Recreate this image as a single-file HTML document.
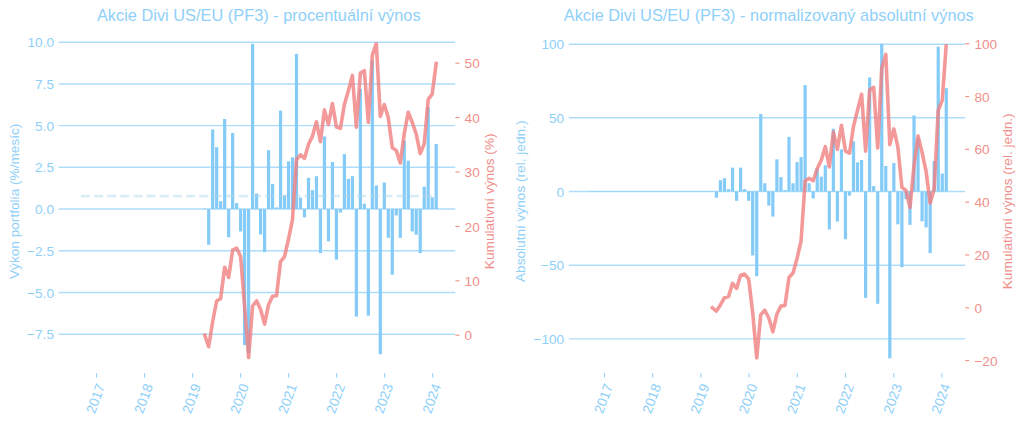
<!DOCTYPE html>
<html lang="cs"><head><meta charset="utf-8"><title>Akcie Divi US/EU (PF3)</title>
<style>html,body{margin:0;padding:0;background:#fff}body{width:1024px;height:424px;overflow:hidden}svg{display:block}svg text{font-family:"Liberation Sans",sans-serif}</style></head>
<body>
<svg width="1024" height="424" viewBox="0 0 1024 424">
<rect width="1024" height="424" fill="#fff"/>
<clipPath id="ca"><rect x="58.7" y="42.2" width="396.5" height="331"/></clipPath>
<rect x="203.11" y="208.6" width="3.2" height="0.9" fill-opacity="0.55" fill="#84cbf8"/>
<rect x="207.1" y="209.05" width="3.2" height="35.74" fill="#84cbf8"/>
<rect x="211.09" y="129.46" width="3.2" height="79.59" fill="#84cbf8"/>
<rect x="215.08" y="147.14" width="3.2" height="61.91" fill="#84cbf8"/>
<rect x="219.07" y="201.21" width="3.2" height="7.84" fill="#84cbf8"/>
<rect x="223.06" y="118.95" width="3.2" height="90.1" fill="#84cbf8"/>
<rect x="227.06" y="209.05" width="3.2" height="28.23" fill="#84cbf8"/>
<rect x="231.05" y="132.96" width="3.2" height="76.09" fill="#84cbf8"/>
<rect x="235.04" y="203.04" width="3.2" height="6.01" fill="#84cbf8"/>
<rect x="239.03" y="209.05" width="3.2" height="22.39" fill="#84cbf8"/>
<rect x="243.02" y="209.05" width="3.2" height="136.02" fill="#84cbf8"/>
<rect x="247.01" y="209.05" width="3.2" height="144.2" fill="#84cbf8"/>
<rect x="251" y="43.86" width="3.2" height="165.19" fill="#84cbf8"/>
<rect x="254.99" y="193.53" width="3.2" height="15.52" fill="#84cbf8"/>
<rect x="258.98" y="209.05" width="3.2" height="25.4" fill="#84cbf8"/>
<rect x="262.97" y="209.05" width="3.2" height="43.08" fill="#84cbf8"/>
<rect x="266.96" y="150.15" width="3.2" height="58.9" fill="#84cbf8"/>
<rect x="270.96" y="184.02" width="3.2" height="25.03" fill="#84cbf8"/>
<rect x="274.95" y="207.38" width="3.2" height="1.67" fill="#84cbf8"/>
<rect x="278.94" y="110.6" width="3.2" height="98.45" fill="#84cbf8"/>
<rect x="282.93" y="195.37" width="3.2" height="13.68" fill="#84cbf8"/>
<rect x="286.92" y="161.33" width="3.2" height="47.72" fill="#84cbf8"/>
<rect x="290.91" y="157.32" width="3.2" height="51.73" fill="#84cbf8"/>
<rect x="294.9" y="53.87" width="3.2" height="155.18" fill="#84cbf8"/>
<rect x="298.89" y="197.7" width="3.2" height="11.35" fill="#84cbf8"/>
<rect x="302.88" y="209.05" width="3.2" height="8.21" fill="#84cbf8"/>
<rect x="306.88" y="177.85" width="3.2" height="31.2" fill="#84cbf8"/>
<rect x="310.87" y="190.19" width="3.2" height="18.86" fill="#84cbf8"/>
<rect x="314.86" y="176.18" width="3.2" height="32.87" fill="#84cbf8"/>
<rect x="318.85" y="209.05" width="3.2" height="44.08" fill="#84cbf8"/>
<rect x="322.84" y="136.47" width="3.2" height="72.58" fill="#84cbf8"/>
<rect x="326.83" y="209.05" width="3.2" height="32.24" fill="#84cbf8"/>
<rect x="330.82" y="162" width="3.2" height="47.05" fill="#84cbf8"/>
<rect x="334.81" y="209.05" width="3.2" height="50.59" fill="#84cbf8"/>
<rect x="338.8" y="209.05" width="3.2" height="3.54" fill="#84cbf8"/>
<rect x="342.79" y="154.15" width="3.2" height="54.9" fill="#84cbf8"/>
<rect x="346.78" y="178.85" width="3.2" height="30.2" fill="#84cbf8"/>
<rect x="350.78" y="176.18" width="3.2" height="32.87" fill="#84cbf8"/>
<rect x="354.77" y="209.05" width="3.2" height="107.49" fill="#84cbf8"/>
<rect x="358.76" y="88.91" width="3.2" height="120.14" fill="#84cbf8"/>
<rect x="362.75" y="203.71" width="3.2" height="5.34" fill="#84cbf8"/>
<rect x="366.74" y="209.05" width="3.2" height="106.66" fill="#84cbf8"/>
<rect x="370.73" y="60.54" width="3.2" height="148.51" fill="#84cbf8"/>
<rect x="374.72" y="185.52" width="3.2" height="23.53" fill="#84cbf8"/>
<rect x="378.71" y="209.05" width="3.2" height="145.2" fill="#84cbf8"/>
<rect x="382.7" y="182.52" width="3.2" height="26.53" fill="#84cbf8"/>
<rect x="386.69" y="209.05" width="3.2" height="28.73" fill="#84cbf8"/>
<rect x="390.69" y="209.05" width="3.2" height="65.78" fill="#84cbf8"/>
<rect x="394.68" y="209.05" width="3.2" height="6.37" fill="#84cbf8"/>
<rect x="398.67" y="209.05" width="3.2" height="28.9" fill="#84cbf8"/>
<rect x="402.66" y="140.64" width="3.2" height="68.41" fill="#84cbf8"/>
<rect x="406.65" y="160.66" width="3.2" height="48.39" fill="#84cbf8"/>
<rect x="410.64" y="209.05" width="3.2" height="22.39" fill="#84cbf8"/>
<rect x="414.63" y="209.05" width="3.2" height="25.73" fill="#84cbf8"/>
<rect x="418.62" y="209.05" width="3.2" height="44.08" fill="#84cbf8"/>
<rect x="422.61" y="186.69" width="3.2" height="22.36" fill="#84cbf8"/>
<rect x="426.6" y="107.27" width="3.2" height="101.78" fill="#84cbf8"/>
<rect x="430.6" y="197.37" width="3.2" height="11.68" fill="#84cbf8"/>
<rect x="434.59" y="143.97" width="3.2" height="65.08" fill="#84cbf8"/>
<line x1="58.7" x2="455.2" y1="42.19" y2="42.19" stroke="#84cbf8" stroke-opacity="0.66" stroke-width="1.45"/>
<text x="54" y="47.29" font-size="13.65" fill="#8fd0f9" text-anchor="end">10.0</text>
<line x1="58.7" x2="455.2" y1="83.91" y2="83.91" stroke="#84cbf8" stroke-opacity="0.66" stroke-width="1.45"/>
<text x="54" y="89.01" font-size="13.65" fill="#8fd0f9" text-anchor="end">7.5</text>
<line x1="58.7" x2="455.2" y1="125.62" y2="125.62" stroke="#84cbf8" stroke-opacity="0.66" stroke-width="1.45"/>
<text x="54" y="130.72" font-size="13.65" fill="#8fd0f9" text-anchor="end">5.0</text>
<line x1="58.7" x2="455.2" y1="167.34" y2="167.34" stroke="#84cbf8" stroke-opacity="0.66" stroke-width="1.45"/>
<text x="54" y="172.44" font-size="13.65" fill="#8fd0f9" text-anchor="end">2.5</text>
<line x1="58.7" x2="455.2" y1="209.05" y2="209.05" stroke="#84cbf8" stroke-opacity="0.66" stroke-width="1.45"/>
<text x="54" y="214.15" font-size="13.65" fill="#8fd0f9" text-anchor="end">0.0</text>
<line x1="58.7" x2="455.2" y1="250.77" y2="250.77" stroke="#84cbf8" stroke-opacity="0.66" stroke-width="1.45"/>
<text x="54" y="255.87" font-size="13.65" fill="#8fd0f9" text-anchor="end">−2.5</text>
<line x1="58.7" x2="455.2" y1="292.48" y2="292.48" stroke="#84cbf8" stroke-opacity="0.66" stroke-width="1.45"/>
<text x="54" y="297.58" font-size="13.65" fill="#8fd0f9" text-anchor="end">−5.0</text>
<line x1="58.7" x2="455.2" y1="334.19" y2="334.19" stroke="#84cbf8" stroke-opacity="0.66" stroke-width="1.45"/>
<text x="54" y="339.3" font-size="13.65" fill="#8fd0f9" text-anchor="end">−7.5</text>
<line x1="80.87" x2="436.5" y1="196.15" y2="196.15" stroke="#add8e6" stroke-opacity="0.45" stroke-width="2.6" stroke-dasharray="9 4.16"/>
<polyline points="204.71,335.2 208.7,346.77 212.69,321.52 216.68,300.98 220.67,298.42 224.66,267.21 228.66,277.47 232.65,250.2 236.64,248.1 240.63,256.48 244.62,307.15 248.61,357.49 252.6,305.98 256.59,300.8 260.58,309.52 264.57,324.15 268.56,304.7 272.56,296.24 276.55,295.81 280.54,261.55 284.53,256.65 288.52,239.02 292.51,219.34 296.5,159.68 300.49,154.97 304.48,158.43 308.48,144.41 312.47,136.3 316.46,121.85 320.45,141.77 324.44,109.85 328.43,124.62 332.42,103.52 336.41,126.94 340.4,128.43 344.39,104.61 348.38,90.77 352.38,75.42 356.37,127.18 360.36,73.13 364.35,70.76 368.34,122.41 372.33,55.13 376.32,43.71 380.31,116.42 384.3,104.48 388.29,117.73 392.29,147.69 396.28,150.38 400.27,162.92 404.26,133.68 408.25,112.22 412.24,122.42 416.23,134 420.22,153.61 424.21,144.07 428.2,99.33 432.2,94.07 436.19,63.44" fill="none" stroke="#f08080" stroke-opacity="0.8" stroke-width="3.6" clip-path="url(#ca)" stroke-linejoin="round" stroke-linecap="square"/>
<line x1="455.4" x2="459.4" y1="335.2" y2="335.2" stroke="#f08f8b" stroke-width="1.1"/>
<text x="464.6" y="340.3" font-size="13.65" fill="#f08f8b">0</text>
<line x1="455.4" x2="459.4" y1="280.8" y2="280.8" stroke="#f08f8b" stroke-width="1.1"/>
<text x="464.6" y="285.9" font-size="13.65" fill="#f08f8b">10</text>
<line x1="455.4" x2="459.4" y1="226.4" y2="226.4" stroke="#f08f8b" stroke-width="1.1"/>
<text x="464.6" y="231.5" font-size="13.65" fill="#f08f8b">20</text>
<line x1="455.4" x2="459.4" y1="172" y2="172" stroke="#f08f8b" stroke-width="1.1"/>
<text x="464.6" y="177.1" font-size="13.65" fill="#f08f8b">30</text>
<line x1="455.4" x2="459.4" y1="117.6" y2="117.6" stroke="#f08f8b" stroke-width="1.1"/>
<text x="464.6" y="122.7" font-size="13.65" fill="#f08f8b">40</text>
<line x1="455.4" x2="459.4" y1="63.2" y2="63.2" stroke="#f08f8b" stroke-width="1.1"/>
<text x="464.6" y="68.3" font-size="13.65" fill="#f08f8b">50</text>
<line x1="96.5" x2="96.5" y1="373.2" y2="377.6" stroke="#8fd0f9" stroke-width="1.1"/>
<text transform="translate(95.4,398.6) rotate(-70)" font-size="13.65" fill="#8fd0f9" text-anchor="middle" dy="4.77">2017</text>
<line x1="144.53" x2="144.53" y1="373.2" y2="377.6" stroke="#8fd0f9" stroke-width="1.1"/>
<text transform="translate(143.43,398.6) rotate(-70)" font-size="13.65" fill="#8fd0f9" text-anchor="middle" dy="4.77">2018</text>
<line x1="192.56" x2="192.56" y1="373.2" y2="377.6" stroke="#8fd0f9" stroke-width="1.1"/>
<text transform="translate(191.46,398.6) rotate(-70)" font-size="13.65" fill="#8fd0f9" text-anchor="middle" dy="4.77">2019</text>
<line x1="240.59" x2="240.59" y1="373.2" y2="377.6" stroke="#8fd0f9" stroke-width="1.1"/>
<text transform="translate(239.49,398.6) rotate(-70)" font-size="13.65" fill="#8fd0f9" text-anchor="middle" dy="4.77">2020</text>
<line x1="288.62" x2="288.62" y1="373.2" y2="377.6" stroke="#8fd0f9" stroke-width="1.1"/>
<text transform="translate(287.52,398.6) rotate(-70)" font-size="13.65" fill="#8fd0f9" text-anchor="middle" dy="4.77">2021</text>
<line x1="336.65" x2="336.65" y1="373.2" y2="377.6" stroke="#8fd0f9" stroke-width="1.1"/>
<text transform="translate(335.55,398.6) rotate(-70)" font-size="13.65" fill="#8fd0f9" text-anchor="middle" dy="4.77">2022</text>
<line x1="384.68" x2="384.68" y1="373.2" y2="377.6" stroke="#8fd0f9" stroke-width="1.1"/>
<text transform="translate(383.58,398.6) rotate(-70)" font-size="13.65" fill="#8fd0f9" text-anchor="middle" dy="4.77">2023</text>
<line x1="432.71" x2="432.71" y1="373.2" y2="377.6" stroke="#8fd0f9" stroke-width="1.1"/>
<text transform="translate(431.61,398.6) rotate(-70)" font-size="13.65" fill="#8fd0f9" text-anchor="middle" dy="4.77">2024</text>
<text x="258.75" y="21" font-size="16.38" fill="#8fd0f9" text-anchor="middle">Akcie Divi US/EU (PF3) - procentuální výnos</text>
<text transform="translate(18.6,201.3) rotate(-90)" font-size="13.65" fill="#8fd0f9" text-anchor="middle">Výkon portfolia (%/mesíc)</text>
<text transform="translate(494.2,201.3) rotate(-90)" font-size="13.65" fill="#f08f8b" text-anchor="middle">Kumulativní výnos (%)</text>
<clipPath id="cb"><rect x="568.9" y="44.15" width="396.1" height="329.05"/></clipPath>
<rect x="589.78" y="191.05" width="3.2" height="0.9" fill-opacity="0.55" fill="#84cbf8"/>
<rect x="593.81" y="191.05" width="3.2" height="0.9" fill-opacity="0.55" fill="#84cbf8"/>
<rect x="597.84" y="191.05" width="3.2" height="0.9" fill-opacity="0.55" fill="#84cbf8"/>
<rect x="601.88" y="191.05" width="3.2" height="0.9" fill-opacity="0.55" fill="#84cbf8"/>
<rect x="605.91" y="191.05" width="3.2" height="0.9" fill-opacity="0.55" fill="#84cbf8"/>
<rect x="609.94" y="191.05" width="3.2" height="0.9" fill-opacity="0.55" fill="#84cbf8"/>
<rect x="613.97" y="191.05" width="3.2" height="0.9" fill-opacity="0.55" fill="#84cbf8"/>
<rect x="618.01" y="191.05" width="3.2" height="0.9" fill-opacity="0.55" fill="#84cbf8"/>
<rect x="622.04" y="191.05" width="3.2" height="0.9" fill-opacity="0.55" fill="#84cbf8"/>
<rect x="626.07" y="191.05" width="3.2" height="0.9" fill-opacity="0.55" fill="#84cbf8"/>
<rect x="630.11" y="191.05" width="3.2" height="0.9" fill-opacity="0.55" fill="#84cbf8"/>
<rect x="634.14" y="191.05" width="3.2" height="0.9" fill-opacity="0.55" fill="#84cbf8"/>
<rect x="638.17" y="191.05" width="3.2" height="0.9" fill-opacity="0.55" fill="#84cbf8"/>
<rect x="642.21" y="191.05" width="3.2" height="0.9" fill-opacity="0.55" fill="#84cbf8"/>
<rect x="646.24" y="191.05" width="3.2" height="0.9" fill-opacity="0.55" fill="#84cbf8"/>
<rect x="650.27" y="191.05" width="3.2" height="0.9" fill-opacity="0.55" fill="#84cbf8"/>
<rect x="654.3" y="191.05" width="3.2" height="0.9" fill-opacity="0.55" fill="#84cbf8"/>
<rect x="658.34" y="191.05" width="3.2" height="0.9" fill-opacity="0.55" fill="#84cbf8"/>
<rect x="662.37" y="191.05" width="3.2" height="0.9" fill-opacity="0.55" fill="#84cbf8"/>
<rect x="666.4" y="191.05" width="3.2" height="0.9" fill-opacity="0.55" fill="#84cbf8"/>
<rect x="670.44" y="191.05" width="3.2" height="0.9" fill-opacity="0.55" fill="#84cbf8"/>
<rect x="674.47" y="191.05" width="3.2" height="0.9" fill-opacity="0.55" fill="#84cbf8"/>
<rect x="678.5" y="191.05" width="3.2" height="0.9" fill-opacity="0.55" fill="#84cbf8"/>
<rect x="682.54" y="191.05" width="3.2" height="0.9" fill-opacity="0.55" fill="#84cbf8"/>
<rect x="686.57" y="191.05" width="3.2" height="0.9" fill-opacity="0.55" fill="#84cbf8"/>
<rect x="690.6" y="191.05" width="3.2" height="0.9" fill-opacity="0.55" fill="#84cbf8"/>
<rect x="694.63" y="191.05" width="3.2" height="0.9" fill-opacity="0.55" fill="#84cbf8"/>
<rect x="698.67" y="191.05" width="3.2" height="0.9" fill-opacity="0.55" fill="#84cbf8"/>
<rect x="702.7" y="191.05" width="3.2" height="0.9" fill-opacity="0.55" fill="#84cbf8"/>
<rect x="706.73" y="191.05" width="3.2" height="0.9" fill-opacity="0.55" fill="#84cbf8"/>
<rect x="710.77" y="191.05" width="3.2" height="0.9" fill-opacity="0.55" fill="#84cbf8"/>
<rect x="714.8" y="191.5" width="3.2" height="6.19" fill="#84cbf8"/>
<rect x="718.83" y="180.15" width="3.2" height="11.35" fill="#84cbf8"/>
<rect x="722.87" y="178.23" width="3.2" height="13.27" fill="#84cbf8"/>
<rect x="726.9" y="189.14" width="3.2" height="2.36" fill="#84cbf8"/>
<rect x="730.93" y="167.62" width="3.2" height="23.88" fill="#84cbf8"/>
<rect x="734.96" y="191.5" width="3.2" height="9.29" fill="#84cbf8"/>
<rect x="739" y="167.62" width="3.2" height="23.88" fill="#84cbf8"/>
<rect x="743.03" y="189.14" width="3.2" height="2.36" fill="#84cbf8"/>
<rect x="747.06" y="191.5" width="3.2" height="9.29" fill="#84cbf8"/>
<rect x="751.1" y="191.5" width="3.2" height="63.96" fill="#84cbf8"/>
<rect x="755.13" y="191.5" width="3.2" height="84.73" fill="#84cbf8"/>
<rect x="759.16" y="113.99" width="3.2" height="77.51" fill="#84cbf8"/>
<rect x="763.2" y="183.24" width="3.2" height="8.26" fill="#84cbf8"/>
<rect x="767.23" y="191.5" width="3.2" height="14.15" fill="#84cbf8"/>
<rect x="771.26" y="191.5" width="3.2" height="25.05" fill="#84cbf8"/>
<rect x="775.29" y="159.37" width="3.2" height="32.13" fill="#84cbf8"/>
<rect x="779.33" y="177.05" width="3.2" height="14.45" fill="#84cbf8"/>
<rect x="783.36" y="190.02" width="3.2" height="1.48" fill="#84cbf8"/>
<rect x="787.39" y="136.83" width="3.2" height="54.67" fill="#84cbf8"/>
<rect x="791.43" y="183.24" width="3.2" height="8.26" fill="#84cbf8"/>
<rect x="795.46" y="162.17" width="3.2" height="29.33" fill="#84cbf8"/>
<rect x="799.49" y="157.16" width="3.2" height="34.34" fill="#84cbf8"/>
<rect x="803.53" y="85.11" width="3.2" height="106.39" fill="#84cbf8"/>
<rect x="807.56" y="183.24" width="3.2" height="8.26" fill="#84cbf8"/>
<rect x="811.59" y="191.5" width="3.2" height="6.93" fill="#84cbf8"/>
<rect x="815.62" y="168.36" width="3.2" height="23.14" fill="#84cbf8"/>
<rect x="819.66" y="176.61" width="3.2" height="14.89" fill="#84cbf8"/>
<rect x="823.69" y="165.27" width="3.2" height="26.23" fill="#84cbf8"/>
<rect x="827.72" y="191.5" width="3.2" height="38.02" fill="#84cbf8"/>
<rect x="831.76" y="128.87" width="3.2" height="62.63" fill="#84cbf8"/>
<rect x="835.79" y="191.5" width="3.2" height="30.06" fill="#84cbf8"/>
<rect x="839.82" y="149.35" width="3.2" height="42.15" fill="#84cbf8"/>
<rect x="843.86" y="191.5" width="3.2" height="47.75" fill="#84cbf8"/>
<rect x="847.89" y="191.5" width="3.2" height="4.13" fill="#84cbf8"/>
<rect x="851.92" y="141.4" width="3.2" height="50.1" fill="#84cbf8"/>
<rect x="855.95" y="162.32" width="3.2" height="29.18" fill="#84cbf8"/>
<rect x="859.99" y="159.96" width="3.2" height="31.54" fill="#84cbf8"/>
<rect x="864.02" y="191.5" width="3.2" height="106.39" fill="#84cbf8"/>
<rect x="868.05" y="77.45" width="3.2" height="114.05" fill="#84cbf8"/>
<rect x="872.09" y="186.04" width="3.2" height="5.46" fill="#84cbf8"/>
<rect x="876.12" y="191.5" width="3.2" height="112.29" fill="#84cbf8"/>
<rect x="880.15" y="43.85" width="3.2" height="147.65" fill="#84cbf8"/>
<rect x="884.19" y="166" width="3.2" height="25.5" fill="#84cbf8"/>
<rect x="888.22" y="191.5" width="3.2" height="166.81" fill="#84cbf8"/>
<rect x="892.25" y="163.06" width="3.2" height="28.44" fill="#84cbf8"/>
<rect x="896.28" y="191.5" width="3.2" height="32.86" fill="#84cbf8"/>
<rect x="900.32" y="191.5" width="3.2" height="75.74" fill="#84cbf8"/>
<rect x="904.35" y="191.5" width="3.2" height="7.67" fill="#84cbf8"/>
<rect x="908.38" y="191.5" width="3.2" height="33.31" fill="#84cbf8"/>
<rect x="912.42" y="115.46" width="3.2" height="76.04" fill="#84cbf8"/>
<rect x="916.45" y="138.15" width="3.2" height="53.35" fill="#84cbf8"/>
<rect x="920.48" y="191.5" width="3.2" height="29.77" fill="#84cbf8"/>
<rect x="924.52" y="191.5" width="3.2" height="35.96" fill="#84cbf8"/>
<rect x="928.55" y="191.5" width="3.2" height="61.6" fill="#84cbf8"/>
<rect x="932.58" y="161.14" width="3.2" height="30.36" fill="#84cbf8"/>
<rect x="936.62" y="46.65" width="3.2" height="144.85" fill="#84cbf8"/>
<rect x="940.65" y="173.52" width="3.2" height="17.98" fill="#84cbf8"/>
<rect x="944.68" y="88.2" width="3.2" height="103.3" fill="#84cbf8"/>
<line x1="568.9" x2="965" y1="44.15" y2="44.15" stroke="#84cbf8" stroke-opacity="0.66" stroke-width="1.45"/>
<text x="564.2" y="49.25" font-size="13.65" fill="#8fd0f9" text-anchor="end">100</text>
<line x1="568.9" x2="965" y1="117.83" y2="117.83" stroke="#84cbf8" stroke-opacity="0.66" stroke-width="1.45"/>
<text x="564.2" y="122.92" font-size="13.65" fill="#8fd0f9" text-anchor="end">50</text>
<line x1="568.9" x2="965" y1="191.5" y2="191.5" stroke="#84cbf8" stroke-opacity="0.66" stroke-width="1.45"/>
<text x="564.2" y="196.6" font-size="13.65" fill="#8fd0f9" text-anchor="end">0</text>
<line x1="568.9" x2="965" y1="265.18" y2="265.18" stroke="#84cbf8" stroke-opacity="0.66" stroke-width="1.45"/>
<text x="564.2" y="270.28" font-size="13.65" fill="#8fd0f9" text-anchor="end">−50</text>
<line x1="568.9" x2="965" y1="338.85" y2="338.85" stroke="#84cbf8" stroke-opacity="0.66" stroke-width="1.45"/>
<text x="564.2" y="343.95" font-size="13.65" fill="#8fd0f9" text-anchor="end">−100</text>
<polyline points="712.37,307.8 716.4,311.09 720.43,304.92 724.47,297.68 728.5,296.52 732.53,283.36 736.56,288.38 740.6,275.21 744.63,274.06 748.66,279.08 752.7,312.78 756.73,357.83 760.76,314.7 764.8,310.26 768.83,317.99 772.86,331.82 776.89,314.04 780.93,306.14 784.96,305.48 788.99,277.49 793.03,273.05 797.06,258.42 801.09,240.73 805.13,180.95 809.16,178.35 813.19,180.73 817.23,168.5 821.26,160.36 825.29,146.66 829.32,166.94 833.36,132.13 837.39,149.28 841.42,125.38 845.46,151.09 849.49,153.23 853.52,126.2 857.55,110.07 861.59,94.21 865.62,151.09 869.65,89.93 873.69,87.31 877.72,148.01 881.75,68.09 885.79,54.41 889.82,144.64 893.85,128.92 897.88,147.11 901.92,187.4 905.95,190.45 909.98,207.57 914.02,165.53 918.05,135.9 922.08,152.36 926.12,171.49 930.15,203.08 934.18,188.67 938.22,110.31 942.25,100.44 946.28,43.7" fill="none" stroke="#f08080" stroke-opacity="0.8" stroke-width="3.6" clip-path="url(#cb)" stroke-linejoin="round" stroke-linecap="square"/>
<line x1="965.2" x2="969.2" y1="360.62" y2="360.62" stroke="#f08f8b" stroke-width="1.1"/>
<text x="974.4" y="365.72" font-size="13.65" fill="#f08f8b">−20</text>
<line x1="965.2" x2="969.2" y1="307.8" y2="307.8" stroke="#f08f8b" stroke-width="1.1"/>
<text x="974.4" y="312.9" font-size="13.65" fill="#f08f8b">0</text>
<line x1="965.2" x2="969.2" y1="254.98" y2="254.98" stroke="#f08f8b" stroke-width="1.1"/>
<text x="974.4" y="260.08" font-size="13.65" fill="#f08f8b">20</text>
<line x1="965.2" x2="969.2" y1="202.16" y2="202.16" stroke="#f08f8b" stroke-width="1.1"/>
<text x="974.4" y="207.26" font-size="13.65" fill="#f08f8b">40</text>
<line x1="965.2" x2="969.2" y1="149.34" y2="149.34" stroke="#f08f8b" stroke-width="1.1"/>
<text x="974.4" y="154.44" font-size="13.65" fill="#f08f8b">60</text>
<line x1="965.2" x2="969.2" y1="96.52" y2="96.52" stroke="#f08f8b" stroke-width="1.1"/>
<text x="974.4" y="101.62" font-size="13.65" fill="#f08f8b">80</text>
<line x1="965.2" x2="969.2" y1="43.7" y2="43.7" stroke="#f08f8b" stroke-width="1.1"/>
<text x="974.4" y="48.8" font-size="13.65" fill="#f08f8b">100</text>
<line x1="604.5" x2="604.5" y1="373.2" y2="377.6" stroke="#8fd0f9" stroke-width="1.1"/>
<text transform="translate(603.4,398.6) rotate(-70)" font-size="13.65" fill="#8fd0f9" text-anchor="middle" dy="4.77">2017</text>
<line x1="652.7" x2="652.7" y1="373.2" y2="377.6" stroke="#8fd0f9" stroke-width="1.1"/>
<text transform="translate(651.6,398.6) rotate(-70)" font-size="13.65" fill="#8fd0f9" text-anchor="middle" dy="4.77">2018</text>
<line x1="700.9" x2="700.9" y1="373.2" y2="377.6" stroke="#8fd0f9" stroke-width="1.1"/>
<text transform="translate(699.8,398.6) rotate(-70)" font-size="13.65" fill="#8fd0f9" text-anchor="middle" dy="4.77">2019</text>
<line x1="749.1" x2="749.1" y1="373.2" y2="377.6" stroke="#8fd0f9" stroke-width="1.1"/>
<text transform="translate(748,398.6) rotate(-70)" font-size="13.65" fill="#8fd0f9" text-anchor="middle" dy="4.77">2020</text>
<line x1="797.3" x2="797.3" y1="373.2" y2="377.6" stroke="#8fd0f9" stroke-width="1.1"/>
<text transform="translate(796.2,398.6) rotate(-70)" font-size="13.65" fill="#8fd0f9" text-anchor="middle" dy="4.77">2021</text>
<line x1="845.5" x2="845.5" y1="373.2" y2="377.6" stroke="#8fd0f9" stroke-width="1.1"/>
<text transform="translate(844.4,398.6) rotate(-70)" font-size="13.65" fill="#8fd0f9" text-anchor="middle" dy="4.77">2022</text>
<line x1="893.7" x2="893.7" y1="373.2" y2="377.6" stroke="#8fd0f9" stroke-width="1.1"/>
<text transform="translate(892.6,398.6) rotate(-70)" font-size="13.65" fill="#8fd0f9" text-anchor="middle" dy="4.77">2023</text>
<line x1="941.9" x2="941.9" y1="373.2" y2="377.6" stroke="#8fd0f9" stroke-width="1.1"/>
<text transform="translate(940.8,398.6) rotate(-70)" font-size="13.65" fill="#8fd0f9" text-anchor="middle" dy="4.77">2024</text>
<text x="768.75" y="21" font-size="16.38" fill="#8fd0f9" text-anchor="middle">Akcie Divi US/EU (PF3) - normalizovaný absolutní výnos</text>
<text transform="translate(524.8,201.3) rotate(-90)" font-size="13.65" fill="#8fd0f9" text-anchor="middle">Absolutní výnos (rel. jedn.)</text>
<text transform="translate(1011.7,201.3) rotate(-90)" font-size="13.65" fill="#f08f8b" text-anchor="middle">Kumulativní výnos (rel. jedn.)</text>
</svg>
</body></html>
